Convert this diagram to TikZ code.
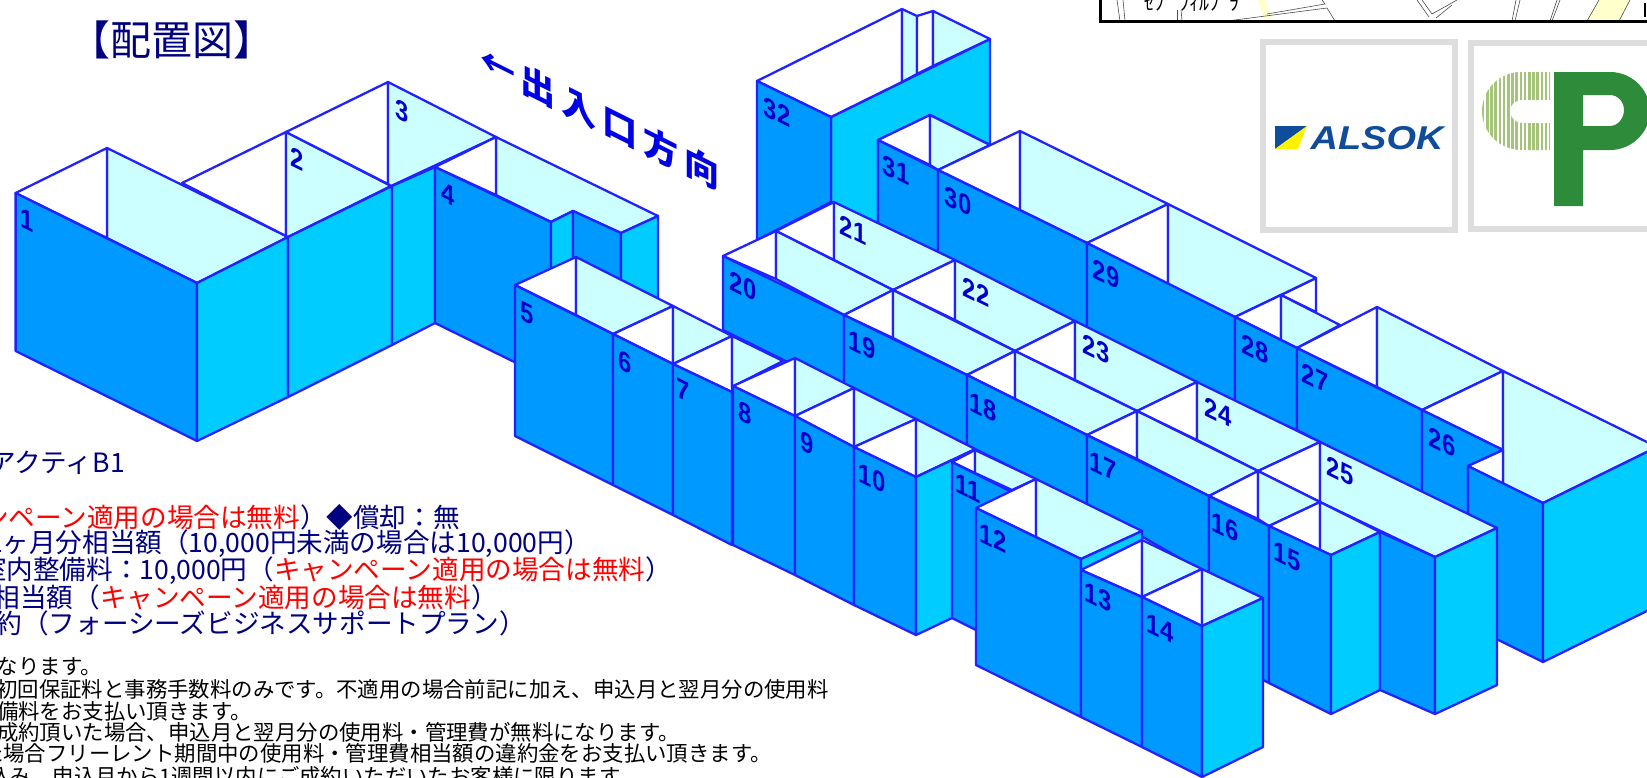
\documentclass[tikz,border=0pt]{standalone}
\usepackage{fontspec}
\setmainfont{Liberation Sans}
\newfontfamily\jpfont{Noto Sans CJK JP}
\definecolor{rimblue}{HTML}{2222FF}
\definecolor{frontblue}{HTML}{0099FF}
\definecolor{sidecyan}{HTML}{00CCFF}
\definecolor{palecyan}{HTML}{CCFFFF}
\definecolor{navytext}{HTML}{000080}
\definecolor{roomink}{HTML}{0000CC}
\definecolor{roadyellow}{HTML}{FFFFCC}
\definecolor{framegray}{HTML}{DDDDDD}
\definecolor{logoblue}{HTML}{0F4C9C}
\definecolor{logogreen}{HTML}{2E8B3A}
\definecolor{stripegreen}{HTML}{A5C47A}
\tikzset{
  front/.style={draw=rimblue,fill=frontblue,line width=2.3pt,line join=round},
  side/.style={draw=rimblue,fill=sidecyan,line width=2.3pt,line join=round},
  pale/.style={draw=rimblue,fill=palecyan,line width=2.3pt,line join=round},
  blank/.style={draw=rimblue,fill=white,line width=2.3pt,line join=round},
  roomtext/.style={transform shape,inner sep=0pt,text=roomink,font=\bfseries\fontsize{28}{28}\selectfont},
  bigline/.style={anchor=east,inner sep=0pt,text=navytext,font=\jpfont\fontsize{26.6}{30}\selectfont},
  smallline/.style={anchor=east,inner sep=0pt,text=black,font=\jpfont\fontsize{21.4}{24}\selectfont},
  mapline/.style={draw=black!70,line width=0.6pt},
  logoframe/.style={draw=framegray,line width=6.5pt}
}
\newcommand{\roomno}[3]{\node[roomtext,cm={.85,-.42,0,1,(#1,#2)}] (r#3) {#3};}
\begin{document}
\begin{tikzpicture}[x=1pt,y=-1pt]
  \useasboundingbox (0,0) rectangle (1647,777);
  \clip (0,0) rectangle (1647,777);

  \fill[roadyellow] (1258,0) -- (1265,0) -- (1272,21) -- (1265,21) -- cycle;
  \fill[roadyellow] (1587,21) -- (1599,0) -- (1630,0) -- (1619,21) -- cycle;
  \draw[mapline] (1117,0) -- (1120,21);
  \draw[mapline] (1123,0) -- (1125,21);
  \draw[mapline] (1177,10) -- (1177,21);
  \draw[mapline] (1181,10) -- (1182,21);
  \draw[mapline] (1267,14) -- (1325,4) -- (1322,0);
  \draw[mapline] (1227,21) -- (1327,8) -- (1335,21);
  \draw[mapline] (1417,0) -- (1429,17);
  \draw[mapline] (1422,0) -- (1432,14) -- (1457,0);
  \draw[mapline] (1436,18) -- (1452,5);
  \draw[mapline] (1512,21) -- (1516,0);
  \draw[mapline] (1515,21) -- (1520,0);
  \draw[mapline] (1550,21) -- (1557,0);
  \draw[mapline] (1552,21) -- (1560,0);
  \draw[mapline] (1587,21) -- (1599,0);
  \draw[mapline] (1619,21) -- (1630,0);
  \node[inner sep=0pt,font=\jpfont\fontsize{20}{20}\selectfont] (mapname) at (1192,3) {ｾﾌﾟ ﾌｨﾙﾌﾟﾗ};
  \draw[black,line width=3pt] (1100,-2) -- (1100,21.5) -- (1650,21.5);
  \draw[black,line width=2.5pt] (1645,3) -- (1645,17);

  \draw[logoframe] (1263,42) rectangle (1455,230);
  \draw[logoframe] (1471,43) rectangle (1700,229);
  \fill[logoblue] (1275,126) -- (1307,126) -- (1275,149) -- cycle;
  \fill[yellow] (1307,126) -- (1298,149) -- (1275,149) -- cycle;
  \node[transform shape,cm={1.15,0,0,1,(1377,138)},inner sep=0pt,text=logoblue,font=\bfseries\itshape\fontsize{33}{33}\selectfont] (alsok) {ALSOK};
  \begin{scope}
    \clip (1550,72) -- (1521,72) .. controls (1499,72) and (1482,90) .. (1482,111) .. controls (1482,132) and (1499,150) .. (1521,150) -- (1550,150) -- (1550,123) -- (1522,123) .. controls (1515,123) and (1510,117) .. (1510,111) .. controls (1510,105) and (1515,100) .. (1522,100) -- (1550,100) -- cycle;
    \foreach \stripex in {1483,1487.2,...,1551}
      \draw[stripegreen,line width=2.6pt] (\stripex,70) -- (\stripex,152);
  \end{scope}
  \fill[logogreen,even odd rule] (1554,72) -- (1610,72) .. controls (1632,72) and (1650,90) .. (1650,111) .. controls (1650,132) and (1632,150) .. (1610,150) -- (1583,150) -- (1583,206) -- (1554,206) -- cycle
    (1583,95) -- (1610,95) .. controls (1618,95) and (1624,102) .. (1624,110) .. controls (1624,118) and (1618,126) .. (1610,126) -- (1583,126) -- cycle;

  \node[inner sep=0pt,text=navytext,font=\jpfont\fontsize{41}{41}\selectfont] (title) at (172,40) {【配置図】};
  \node[transform shape,cm={1,-.5,0,1,(600,117)},inner sep=0pt,text=blue!90!black,font=\jpfont\bfseries\fontsize{35}{35}\selectfont] (doorway) {←\hspace{6pt}出\hspace{6pt}入\hspace{6pt}口\hspace{6pt}方\hspace{6pt}向};

  \node[bigline] (lineA) at (125,463) {アクティB1};
  \node[bigline] (lineB) at (460,517) {{\color{red}ンペーン適用の場合は無料}）◆償却：無};
  \node[bigline] (lineC) at (591,544) {1ヶ月分相当額（10,000円未満の場合は10,000円）};
  \node[bigline] (lineD) at (672,571) {室内整備料：10,000円（{\color{red}キャンペーン適用の場合は無料}）};
  \node[bigline] (lineE) at (498,597) {相当額（{\color{red}キャンペーン適用の場合は無料}）};
  \node[bigline] (lineF) at (526,623) {約（フォーシーズビジネスサポートプラン）};
  \node[smallline] (noteA) at (102,667) {なります。};
  \node[smallline] (noteB) at (829,689) {初回保証料と事務手数料のみです。不適用の場合前記に加え、申込月と翌月分の使用料};
  \node[smallline] (noteC) at (252,711) {備料をお支払い頂きます。};
  \node[smallline] (noteD) at (680,732) {成約頂いた場合、申込月と翌月分の使用料・管理費が無料になります。};
  \node[smallline] (noteE) at (772,753) {た場合フリーレント期間中の使用料・管理費相当額の違約金をお支払い頂きます。};
  \node[smallline] (noteF) at (640,776) {込み、申込月から1週間以内にご成約いただいたお客様に限ります。};

  \draw[pale] (107,148) -- (288,237) -- (197,283) -- (107,238) -- cycle;
  \draw[blank] (15.6,193) -- (107,148) -- (107,238) -- cycle;
  \draw[front] (15.6,193) -- (197,283) -- (197,441) -- (15.6,351) -- cycle;
  \draw[side] (197,283) -- (288,237) -- (288,397) -- (197,441) -- cycle;
  \draw[blank] (182,183) -- (286,132) -- (286,236) -- cycle;
  \draw[pale] (286,132) -- (391,186) -- (288,237) -- (286,236) -- cycle;
  \draw[blank] (286,132) -- (388,82) -- (388,184) -- cycle;
  \draw[pale] (388,82) -- (496,137) -- (391,186) -- (388,184) -- cycle;
  \draw[side] (288,237) -- (392,186) -- (392,345) -- (288,397) -- cycle;
  \draw[side] (392,186) -- (435,167) -- (435,323) -- (392,345) -- cycle;
  \draw[pale] (496,137) -- (658,216) -- (621,233) -- (573,211) -- (551,222) -- (496,195) -- cycle;
  \draw[blank] (435,167) -- (496,137) -- (496,195) -- cycle;
  \draw[front] (435,167) -- (551,222) -- (551,380) -- (435,323) -- cycle;
  \draw[side] (551,222) -- (573,211) -- (573,300) -- (551,300) -- cycle;
  \draw[front] (573,211) -- (621,233) -- (621,300) -- (573,300) -- cycle;
  \draw[side] (621,233) -- (658,216) -- (658,320) -- (621,320) -- cycle;

  \draw[side] (831,117) -- (990,39) -- (990,145) -- (930,115) -- (878,140) -- (878,224) -- (831,202) -- cycle;
  \draw[blank] (757,81) -- (902,9) -- (902,82) -- (831,117) -- cycle;
  \draw[pale] (902,9) -- (917,16) -- (917,74) -- (902,82) -- cycle;
  \draw[blank] (917,16) -- (933,11) -- (933,66) -- (917,74) -- cycle;
  \draw[pale] (933,11) -- (990,39) -- (933,66) -- cycle;
  \draw[front] (757,81) -- (831,117) -- (831,202) -- (757,240) -- cycle;
  \draw[blank] (878,140) -- (930,115) -- (930,165) -- cycle;
  \draw[pale] (930,115) -- (990,145) -- (938,170) -- (930,165) -- cycle;
  \draw[front] (878,140) -- (938,170) -- (938,256) -- (878,226) -- cycle;
  \draw[blank] (938,170) -- (1020,131) -- (1020,210) -- cycle;
  \draw[pale] (1020,131) -- (1168,204) -- (1087,243) -- (1020,210) -- cycle;
  \draw[front] (938,170) -- (1087,243) -- (1087,330) -- (938,256) -- cycle;
  \draw[blank] (1087,243) -- (1168,204) -- (1168,285) -- cycle;
  \draw[blank] (1281,295) -- (1316,278) -- (1316,312) -- cycle;
  \draw[pale] (1168,204) -- (1316,278) -- (1235,317) -- (1168,285) -- cycle;
  \draw[front] (1087,243) -- (1235,317) -- (1235,405) -- (1087,330) -- cycle;
  \draw[blank] (1235,317) -- (1281,295) -- (1281,340) -- cycle;
  \draw[pale] (1281,295) -- (1340,325) -- (1297,348) -- (1281,340) -- cycle;
  \draw[front] (1235,317) -- (1297,348) -- (1297,430) -- (1235,405) -- cycle;
  \draw[blank] (1297,348) -- (1377,307) -- (1377,387) -- cycle;
  \draw[pale] (1377,307) -- (1503,371) -- (1422,410) -- (1377,387) -- cycle;
  \draw[front] (1297,348) -- (1422,410) -- (1422,495) -- (1297,430) -- cycle;
  \draw[blank] (1422,410) -- (1503,371) -- (1503,450) -- cycle;
  \draw[front] (1422,410) -- (1503,450) -- (1468,466) -- (1468,520) -- (1422,495) -- cycle;
  \draw[pale] (1503,371) -- (1657,447) -- (1543,503) -- (1503,484) -- cycle;
  \draw[blank] (1468,466) -- (1503,450) -- (1503,484) -- cycle;
  \draw[front] (1468,466) -- (1543,503) -- (1543,662) -- (1468,625) -- cycle;
  \draw[side] (1543,503) -- (1657,447) -- (1657,606) -- (1543,662) -- cycle;

  \draw[blank] (776,231) -- (834,202) -- (834,260) -- cycle;
  \draw[pale] (834,202) -- (955,260) -- (893,290) -- (834,260) -- cycle;
  \draw[blank] (893,290) -- (955,260) -- (955,320) -- cycle;
  \draw[pale] (955,260) -- (1075,321) -- (1015,351) -- (955,320) -- cycle;
  \draw[blank] (1015,351) -- (1075,321) -- (1075,380) -- cycle;
  \draw[pale] (1075,321) -- (1197,382) -- (1137,411) -- (1075,380) -- cycle;
  \draw[blank] (1137,411) -- (1197,382) -- (1197,440) -- cycle;
  \draw[pale] (1197,382) -- (1320,442) -- (1258,471) -- (1197,440) -- cycle;
  \draw[blank] (1258,471) -- (1320,442) -- (1320,502) -- cycle;
  \draw[pale] (1320,442) -- (1497,528) -- (1435,557) -- (1320,502) -- cycle;

  \draw[blank] (723,256) -- (776,231) -- (776,279) -- cycle;
  \draw[pale] (776,231) -- (893,290) -- (844,315) -- (776,279) -- cycle;
  \draw[front] (723,256) -- (844,315) -- (844,390) -- (723,330) -- cycle;
  \draw[blank] (844,315) -- (893,290) -- (893,338) -- cycle;
  \draw[pale] (893,290) -- (1015,351) -- (967,375) -- (893,338) -- cycle;
  \draw[front] (844,315) -- (967,375) -- (967,445) -- (844,385) -- cycle;
  \draw[blank] (967,375) -- (1015,351) -- (1015,399) -- cycle;
  \draw[pale] (1015,351) -- (1137,411) -- (1087,435) -- (1015,399) -- cycle;
  \draw[front] (967,375) -- (1087,435) -- (1087,505) -- (967,445) -- cycle;
  \draw[blank] (1087,435) -- (1137,411) -- (1137,459) -- cycle;
  \draw[pale] (1137,411) -- (1258,471) -- (1209,496) -- (1137,459) -- cycle;
  \draw[front] (1087,435) -- (1209,496) -- (1209,575) -- (1087,505) -- cycle;
  \draw[blank] (1209,496) -- (1258,471) -- (1258,519) -- cycle;
  \draw[pale] (1258,471) -- (1320,502) -- (1269,526) -- (1258,519) -- cycle;
  \draw[front] (1209,496) -- (1269,526) -- (1269,683) -- (1209,653) -- cycle;

  \draw[blank] (1269,526) -- (1320,502) -- (1320,550) -- cycle;
  \draw[pale] (1320,502) -- (1380,532) -- (1331,555) -- (1320,550) -- cycle;
  \draw[front] (1269,526) -- (1331,555) -- (1331,714) -- (1269,683) -- cycle;
  \draw[side] (1331,555) -- (1380,532) -- (1380,690) -- (1331,714) -- cycle;
  \draw[front] (1380,532) -- (1435,557) -- (1435,714) -- (1380,690) -- cycle;
  \draw[side] (1435,557) -- (1497,528) -- (1497,685) -- (1435,714) -- cycle;

  \draw[blank] (952,462) -- (975,450) -- (975,473) -- cycle;
  \draw[pale] (975,450) -- (1036,479) -- (1012,490) -- (975,473) -- cycle;
  \draw[front] (952,462) -- (1036,504) -- (1036,660) -- (952,618) -- cycle;

  \draw[blank] (515,285) -- (576,257) -- (576,315) -- cycle;
  \draw[pale] (576,257) -- (673,306) -- (613,334) -- (576,315) -- cycle;
  \draw[front] (515,285) -- (613,334) -- (613,485) -- (515,436) -- cycle;
  \draw[blank] (613,334) -- (673,306) -- (673,364) -- cycle;
  \draw[pale] (673,306) -- (732,336) -- (673,364) -- cycle;
  \draw[front] (613,334) -- (673,364) -- (673,515) -- (613,485) -- cycle;
  \draw[blank] (673,364) -- (732,336) -- (732,392) -- cycle;
  \draw[pale] (732,336) -- (783,361) -- (732,387) -- cycle;
  \draw[front] (673,364) -- (732,392) -- (732,545) -- (673,515) -- cycle;
  \draw[blank] (733,386) -- (795,358) -- (795,416) -- cycle;
  \draw[pale] (795,358) -- (854,388) -- (795,416) -- cycle;
  \draw[front] (733,386) -- (795,416) -- (795,575) -- (733,545) -- cycle;
  \draw[blank] (795,416) -- (854,388) -- (854,447) -- cycle;
  \draw[pale] (854,388) -- (916,419) -- (854,447) -- cycle;
  \draw[front] (795,416) -- (854,447) -- (854,605) -- (795,575) -- cycle;
  \draw[blank] (854,447) -- (916,419) -- (916,477) -- cycle;
  \draw[pale] (916,419) -- (975,449) -- (916,477) -- cycle;
  \draw[front] (854,447) -- (916,477) -- (916,635) -- (854,605) -- cycle;
  \draw[side] (916,477) -- (952,460) -- (952,618) -- (916,635) -- cycle;

  \draw[blank] (976,508) -- (1036,479) -- (1036,537) -- cycle;
  \draw[pale] (1036,479) -- (1142,531) -- (1081,559) -- (1036,537) -- cycle;
  \draw[front] (976,508) -- (1081,559) -- (1081,717) -- (976,665) -- cycle;
  \draw[side] (1081,559) -- (1142,531) -- (1142,540) -- (1081,570) -- cycle;
  \draw[blank] (1081,570) -- (1142,540) -- (1142,597) -- cycle;
  \draw[pale] (1142,540) -- (1202,569) -- (1142,597) -- cycle;
  \draw[front] (1081,570) -- (1142,597) -- (1142,747) -- (1081,717) -- cycle;
  \draw[blank] (1142,597) -- (1202,569) -- (1202,626) -- cycle;
  \draw[pale] (1202,569) -- (1263,598) -- (1202,626) -- cycle;
  \draw[front] (1142,597) -- (1202,626) -- (1202,777) -- (1142,747) -- cycle;
  \draw[side] (1202,626) -- (1263,598) -- (1263,747) -- (1202,777) -- cycle;

  \roomno{27}{220}{1}
  \roomno{297}{159}{2}
  \roomno{402}{111}{3}
  \roomno{448}{194}{4}
  \roomno{527}{313}{5}
  \roomno{625}{362}{6}
  \roomno{683}{390}{7}
  \roomno{745}{413}{8}
  \roomno{807}{443}{9}
  \roomno{872}{478}{10}
  \roomno{968}{488}{11}
  \roomno{993}{538}{12}
  \roomno{1098}{597}{13}
  \roomno{1160}{628}{14}
  \roomno{1287}{557}{15}
  \roomno{1225}{527}{16}
  \roomno{1103}{466}{17}
  \roomno{983}{407}{18}
  \roomno{862}{345}{19}
  \roomno{743}{286}{20}
  \roomno{853}{230}{21}
  \roomno{976}{292}{22}
  \roomno{1096}{349}{23}
  \roomno{1218}{412}{24}
  \roomno{1340}{471}{25}
  \roomno{1442}{442}{26}
  \roomno{1315}{378}{27}
  \roomno{1255}{349}{28}
  \roomno{1106}{274}{29}
  \roomno{958}{201}{30}
  \roomno{896}{170}{31}
  \roomno{777}{112}{32}
\end{tikzpicture}
\end{document}
